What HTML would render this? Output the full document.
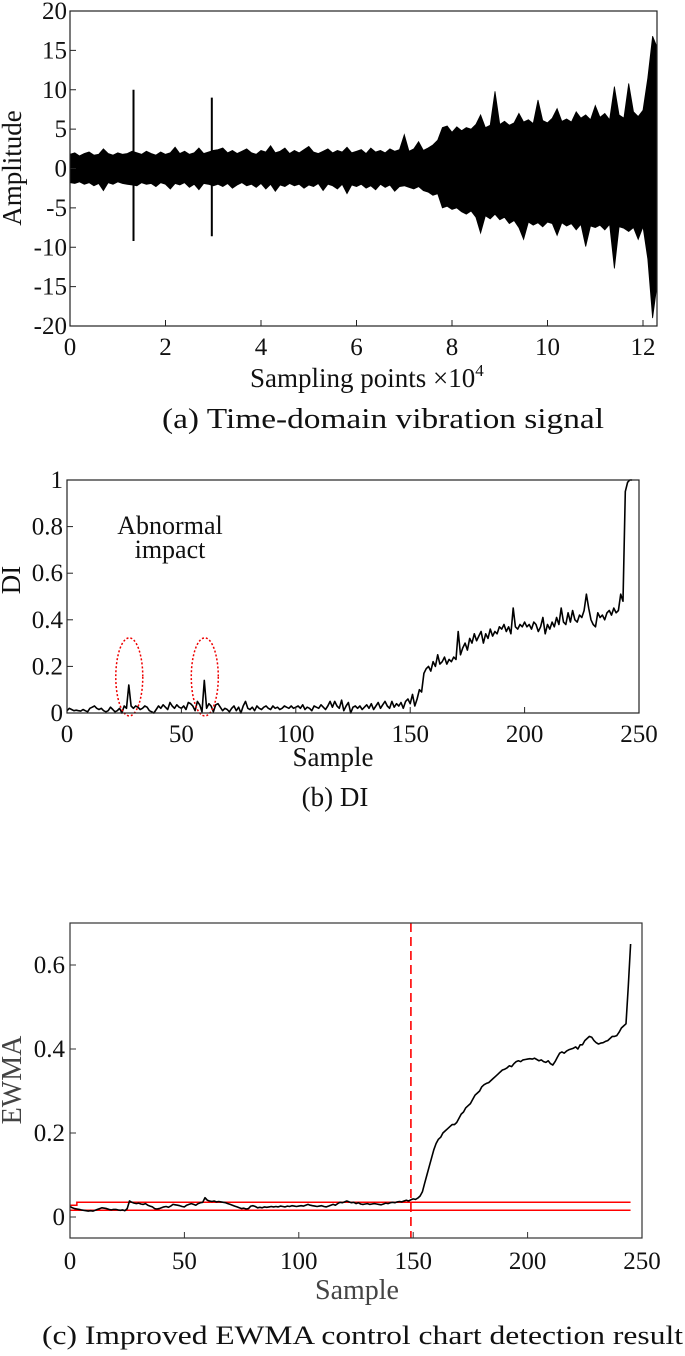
<!DOCTYPE html>
<html><head><meta charset="utf-8"><style>
html,body{margin:0;padding:0;background:#fff;}
svg{display:block;font-family:"Liberation Serif",serif;}
</style></head><body>
<svg id="fig" width="685" height="1356" viewBox="0 0 685 1356" xmlns="http://www.w3.org/2000/svg"></svg>
<script>
// ---------- Panel (a) data ----------
const sigX0 = 0, sigStep = 0.1;
const sigHi = [1.8,2.0,1.6,1.9,2.1,1.7,1.8,2.5,1.9,1.7,2.0,1.8,1.9,
2.2,
2.0,1.8,2.2,1.9,1.7,2.1,1.8,2.0,2.7,1.9,2.2,1.8,2.0,2.6,1.9,2.1,
2.3,
2.4,2.6,2.0,2.3,1.9,2.2,2.5,2.0,1.8,2.3,2.1,2.9,2.0,2.2,2.6,1.9,2.3,2.0,2.4,2.8,
2.1,1.9,2.2,2.5,2.0,2.3,2.1,2.7,2.0,2.2,2.4,1.9,2.6,2.1,2.3,2.0,2.5,2.2,2.4,4.3,
2.2,2.5,3.4,2.3,2.6,3.0,3.6,
5.2,5.4,4.6,
5.3,4.8,5.2,5.0,5.6,6.8,5.2,5.5,9.8,5.6,
6.0,5.5,5.8,7.0,5.9,6.2,5.7,8.7,6.1,5.8,
6.4,7.6,6.0,6.3,5.9,7.2,6.4,6.8,6.2,8.0,
6.5,7.0,6.2,10.4,6.8,6.4,10.8,7.2,6.6,7.4,
11.5,16.8,15.5];
const sigLo = [-1.8,-1.9,-1.7,-2.0,-1.8,-2.2,-1.9,-2.8,-1.8,-2.0,-1.7,-1.9,-2.0,
-2.1,
-2.2,-1.8,-2.0,-1.9,-2.3,-1.8,-2.0,-2.6,-1.9,-2.1,-1.8,-2.4,-2.0,-2.7,-1.9,-2.0,
-2.2,
-2.0,-2.3,-1.9,-2.5,-2.1,-1.8,-2.2,-2.0,-2.4,-1.9,-2.6,-2.0,-2.9,-2.1,-2.3,-1.9,-2.2,-2.0,-2.5,-2.1,
-2.3,-1.9,-2.8,-2.0,-2.2,-2.6,-2.0,-3.2,-2.1,-2.3,-2.0,-2.5,-2.2,-2.7,-2.0,-2.4,-2.1,-2.9,-2.3,-2.2,
-2.4,-2.6,-2.3,-2.8,-3.0,-3.4,-3.2,
-5.0,-4.8,-5.2,
-5.0,-5.5,-5.8,-5.4,-6.2,-8.2,-6.0,-6.4,-5.8,-6.5,
-6.2,-7.0,-6.6,-7.5,-9.0,-6.8,-7.2,-6.9,-7.4,-6.8,
-7.0,-8.5,-6.9,-7.3,-7.0,-7.8,-7.1,-9.9,-7.3,-7.5,
-7.2,-7.8,-7.1,-12.7,-7.4,-7.6,-8.0,-7.5,-9.0,-7.4,
-11.5,-19.0,-15.0];
const spikeX = [1.33, 2.97];
const spikeHi = [10, 9];
const spikeLo = [-9.2, -8.6];
const aXTicks = [0,2,4,6,8,10,12];
const aYTicks = [20,15,10,5,0,-5,-10,-15,-20];

// ---------- Panel (b) data ----------
const diValues = [.01,.02,.015,.01,.012,.01,.008,.015,.01,.005,
.02,.025,.03,.02,.015,.02,.01,.005,.01,.025,
.015,.005,.01,.02,.0,.03,.02,.12,.03,.02,
.03,.025,.015,.02,.03,.025,.01,.005,.0,.015,
.03,.02,.035,.025,.015,.045,.03,.02,.035,.025,
.02,.03,.015,.045,.04,.03,.01,.05,.035,.005,
.14,.02,.04,.03,.005,.035,.04,.025,.01,.02,
.015,.005,.02,.03,.01,.025,.0,.03,.05,.02,
.015,.025,.01,.03,.02,.015,.025,.03,.02,.015,
.03,.02,.025,.015,.02,.03,.025,.02,.03,.02,
.025,.03,.02,.035,.015,.025,.02,.01,.03,.025,
.02,.035,.025,.015,.03,.05,.025,.05,.03,.02,
.055,.01,.03,.045,.0,.025,.03,.02,.03,.015,
.025,.035,.02,.04,.015,.03,.045,.02,.035,.05,
.03,.02,.05,.025,.04,.03,.045,.02,.05,.06,
.04,.08,.03,.06,.1,.09,.17,.19,.2,.18,
.22,.2,.25,.21,.22,.24,.21,.23,.22,.24,
.23,.35,.25,.28,.3,.27,.32,.3,.34,.31,
.33,.35,.3,.34,.32,.36,.33,.35,.34,.37,
.36,.38,.35,.37,.34,.45,.37,.36,.38,.37,
.39,.37,.38,.36,.39,.38,.35,.37,.41,.34,
.38,.36,.39,.37,.41,.38,.45,.39,.38,.43,
.39,.44,.4,.39,.42,.41,.44,.51,.45,.4,
.38,.37,.43,.41,.42,.40,.43,.44,.42,.45,
.43,.44,.51,.48,.95,.99,1.0,1.0];
const bXTicks = [0,50,100,150,200,250];
const bYTicks = [0,0.2,0.4,0.6,0.8,1];
const impactSamples = [27, 60];

// ---------- Panel (c) data ----------
const ewmaValues = [.025,.022,.02,.019,.018,.017,.016,.015,.014,.015,
.014,.016,.018,.02,.022,.021,.02,.018,.017,.018,
.018,.017,.016,.017,.015,.02,.038,.035,.033,.032,
.033,.031,.03,.032,.028,.026,.024,.02,.019,.02,
.022,.024,.025,.023,.026,.03,.029,.028,.027,.025,
.024,.028,.03,.032,.03,.028,.032,.034,.035,.046,
.04,.038,.037,.038,.036,.037,.036,.035,.034,.032,
.03,.028,.026,.024,.022,.02,.021,.019,.02,.026,
.027,.025,.022,.023,.022,.024,.023,.024,.025,.024,
.025,.024,.026,.025,.024,.026,.025,.027,.026,.025,
.026,.027,.026,.028,.03,.028,.027,.026,.025,.026,
.027,.025,.024,.026,.028,.03,.028,.032,.035,.034,
.036,.038,.036,.034,.035,.032,.034,.031,.03,.031,
.032,.03,.031,.032,.031,.03,.029,.031,.033,.032,
.034,.035,.034,.036,.037,.036,.038,.04,.038,.041,
.043,.042,.045,.05,.06,.08,.1,.12,.14,.16,
.175,.185,.19,.2,.205,.21,.215,.22,.22,.225,
.235,.245,.25,.26,.265,.27,.28,.29,.295,.3,
.31,.315,.318,.32,.325,.33,.335,.34,.345,.35,
.352,.355,.36,.358,.365,.37,.372,.37,.374,.375,
.376,.377,.376,.378,.375,.372,.374,.37,.368,.372,
.365,.362,.37,.38,.39,.393,.39,.395,.398,.4,
.402,.405,.4,.41,.41,.42,.425,.43,.428,.42,
.415,.412,.414,.415,.418,.42,.425,.43,.43,.432,
.44,.45,.455,.46,.55,.65];
const uclStart = [0.028, 0.035];
const uclBreak = 3;
const lclValue = 0.016;
const limitEnd = 245;
const changePoint = 149;
const cXTicks = [0,50,100,150,200,250];
const cYTicks = [0,0.2,0.4,0.6];

// ---------- helpers ----------
const NS = "http://www.w3.org/2000/svg";
const svg = document.getElementById('fig');
function mk(tag, attrs, parent){
  const e = document.createElementNS(NS, tag);
  for (const k in attrs) e.setAttribute(k, attrs[k]);
  (parent||svg).appendChild(e);
  return e;
}
function lin(d0,d1,r0,r1){return v => r0 + (v-d0)/(d1-d0)*(r1-r0);}

// ================= Panel A =================
const gA = mk('g', {});


const axL=70, axR=657, ayT=11, ayB=326;
const ax = lin(0,12,70,643), ay = lin(-20,20,ayB,ayT);
{
  let top = [], bot = [];
  for (let i=0;i<sigHi.length;i++){
    const xv = Math.min(sigX0+i*sigStep, 12.29);
    top.push(ax(xv).toFixed(1)+','+ay(sigHi[i]).toFixed(1));
    bot.push(ax(xv).toFixed(1)+','+ay(sigLo[i]).toFixed(1));
  }
  const poly = mk('polygon',{points: top.concat(bot.reverse()).join(' '), fill:'#000', stroke:'#000','stroke-width':'0.8','stroke-linejoin':'miter'}, gA);
  
  
  for (let i=0;i<spikeX.length;i++){
    const l = mk('line',{x1:ax(spikeX[i]),x2:ax(spikeX[i]),y1:ay(spikeHi[i]),y2:ay(spikeLo[i]),stroke:'#000','stroke-width':'2'}, gA);
    
    
  }
  const fr = mk('rect',{x:axL,y:ayT,width:axR-axL,height:ayB-ayT,fill:'none',stroke:'#222','stroke-width':'1.2'}, gA);
  
  
  aXTicks.forEach(t=>{
    mk('line',{x1:ax(t),x2:ax(t),y1:ayB,y2:ayB-6,stroke:'#222','stroke-width':'1'}, gA);
    const tx = mk('text',{x:ax(t),y:ayB+29,'font-size':'25','text-anchor':'middle',fill:'#111'}, gA);
    tx.textContent = t;
    
    
  });
  aYTicks.forEach(t=>{
    mk('line',{x1:axL,x2:axL+6,y1:ay(t),y2:ay(t),stroke:'#222','stroke-width':'1'}, gA);
    const tx = mk('text',{x:axL-3,y:ay(t)+8,'font-size':'25','text-anchor':'end',fill:'#111'}, gA);
    tx.textContent = t;
    
    
  });
  const yt = mk('text',{x:0,y:0,'font-size':'27','text-anchor':'middle',fill:'#111',transform:'translate(21,168) rotate(-90)'}, gA);
  yt.textContent = 'Amplitude';
  
  
  const xt = mk('text',{x:250,y:387,'font-size':'27',fill:'#111'}, gA);
  xt.innerHTML = 'Sampling points ×10<tspan dy="-11" font-size="17">4</tspan>';
  
  
  const cap = mk('text',{x:162,y:428,'font-size':'28',fill:'#111','xml:space':'preserve',textLength:'442',lengthAdjust:'spacingAndGlyphs'}, gA);
  cap.textContent = '(a)    Time-domain vibration signal';
  
  
}

// ================= Panel B =================
const gB = mk('g', {});


const bxL=67, bxR=639, byT=480, byB=713;
const bx = lin(0,250,bxL,bxR), by = lin(0,1,byB,byT);
{
  const pts = diValues.map((v,i)=>bx(i).toFixed(1)+','+by(Math.min(v,1)).toFixed(1)).join(' ');
  const pl = mk('polyline',{points:pts,fill:'none',stroke:'#000','stroke-width':'1.6','stroke-linejoin':'round'}, gB);
  
  
  impactSamples.forEach(s=>{
    const e = mk('ellipse',{cx:bx(s)+0.5,cy:by(0.155),rx:13.5,ry:39,fill:'none',stroke:'#e00','stroke-width':'1.5','stroke-dasharray':'2 2'}, gB);
    
    
  });
  const fr = mk('rect',{x:bxL,y:byT,width:bxR-bxL,height:byB-byT,fill:'none',stroke:'#222','stroke-width':'1.2'}, gB);
  
  
  bXTicks.forEach(t=>{
    mk('line',{x1:bx(t),x2:bx(t),y1:byB,y2:byB-6,stroke:'#222','stroke-width':'1'}, gB);
    const tx = mk('text',{x:bx(t),y:byB+29,'font-size':'25','text-anchor':'middle',fill:'#111'}, gB);
    tx.textContent = t;
    
    
  });
  bYTicks.forEach(t=>{
    mk('line',{x1:bxL,x2:bxL+6,y1:by(t),y2:by(t),stroke:'#222','stroke-width':'1'}, gB);
    const tx = mk('text',{x:bxL-4,y:by(t)+8,'font-size':'25','text-anchor':'end',fill:'#111'}, gB);
    tx.textContent = t;
    
    
  });
  const yt = mk('text',{x:0,y:0,'font-size':'27','text-anchor':'middle',fill:'#111',transform:'translate(20,580) rotate(-90)'}, gB);
  yt.textContent = 'DI';
  
  
  const a1 = mk('text',{x:170,y:534,'font-size':'26','text-anchor':'middle',fill:'#111'}, gB);
  a1.textContent = 'Abnormal';
  
  
  const a2 = mk('text',{x:170,y:558,'font-size':'26','text-anchor':'middle',fill:'#111'}, gB);
  a2.textContent = 'impact';
  
  
  const xt = mk('text',{x:333,y:766,'font-size':'27','text-anchor':'middle',fill:'#111'}, gB);
  xt.textContent = 'Sample';
  
  
  const cap = mk('text',{x:335,y:806,'font-size':'27','text-anchor':'middle',fill:'#111'}, gB);
  cap.textContent = '(b) DI';
  
  
}

// ================= Panel C =================
const gC = mk('g', {});


const cxL=70, cxR=642, cyT=923, cyB=1238;
const cx = lin(0,250,cxL,cxR), cy = lin(-0.05,0.7,cyB,cyT);
{
  const ucl = mk('polyline',{points:[
      cx(0)+','+cy(uclStart[0]), cx(uclBreak)+','+cy(uclStart[0]),
      cx(uclBreak)+','+cy(uclStart[1]), cx(limitEnd)+','+cy(uclStart[1])].join(' '),
      fill:'none',stroke:'#f00','stroke-width':'1.5'}, gC);
  
  
  const lcl = mk('line',{x1:cx(0),x2:cx(limitEnd),y1:cy(lclValue),y2:cy(lclValue),stroke:'#f00','stroke-width':'1.5'}, gC);
  
  
  const pts = ewmaValues.map((v,i)=>cx(i).toFixed(1)+','+cy(v).toFixed(1)).join(' ');
  const pl = mk('polyline',{points:pts,fill:'none',stroke:'#000','stroke-width':'1.6','stroke-linejoin':'round'}, gC);
  
  
  const dl = mk('line',{x1:cx(changePoint),x2:cx(changePoint),y1:cyT,y2:cyB,stroke:'#f00','stroke-width':'1.6','stroke-dasharray':'9 5'}, gC);
  
  
  const fr = mk('rect',{x:cxL,y:cyT,width:cxR-cxL,height:cyB-cyT,fill:'none',stroke:'#333','stroke-width':'1.2'}, gC);
  
  
  cXTicks.forEach(t=>{
    mk('line',{x1:cx(t),x2:cx(t),y1:cyB,y2:cyB-6,stroke:'#333','stroke-width':'1'}, gC);
    const tx = mk('text',{x:cx(t),y:cyB+31,'font-size':'25','text-anchor':'middle',fill:'#111'}, gC);
    tx.textContent = t;
    
    
  });
  cYTicks.forEach(t=>{
    mk('line',{x1:cxL,x2:cxL+6,y1:cy(t),y2:cy(t),stroke:'#333','stroke-width':'1'}, gC);
    const tx = mk('text',{x:cxL-5,y:cy(t)+8,'font-size':'25','text-anchor':'end',fill:'#111'}, gC);
    tx.textContent = t;
    
    
  });
  const yt = mk('text',{x:0,y:0,'font-size':'28','text-anchor':'middle',fill:'#444',transform:'translate(21,1080) rotate(-90)'}, gC);
  yt.textContent = 'EWMA';
  
  
  const xt = mk('text',{x:357,y:1299,'font-size':'28','text-anchor':'middle',fill:'#444'}, gC);
  xt.textContent = 'Sample';
  
  
  const cap = mk('text',{x:42,y:1344,'font-size':'26',fill:'#111',textLength:'641',lengthAdjust:'spacingAndGlyphs'}, gC);
  cap.textContent = '(c) Improved EWMA control chart detection result';
  
  
}
</script>
</body></html>
